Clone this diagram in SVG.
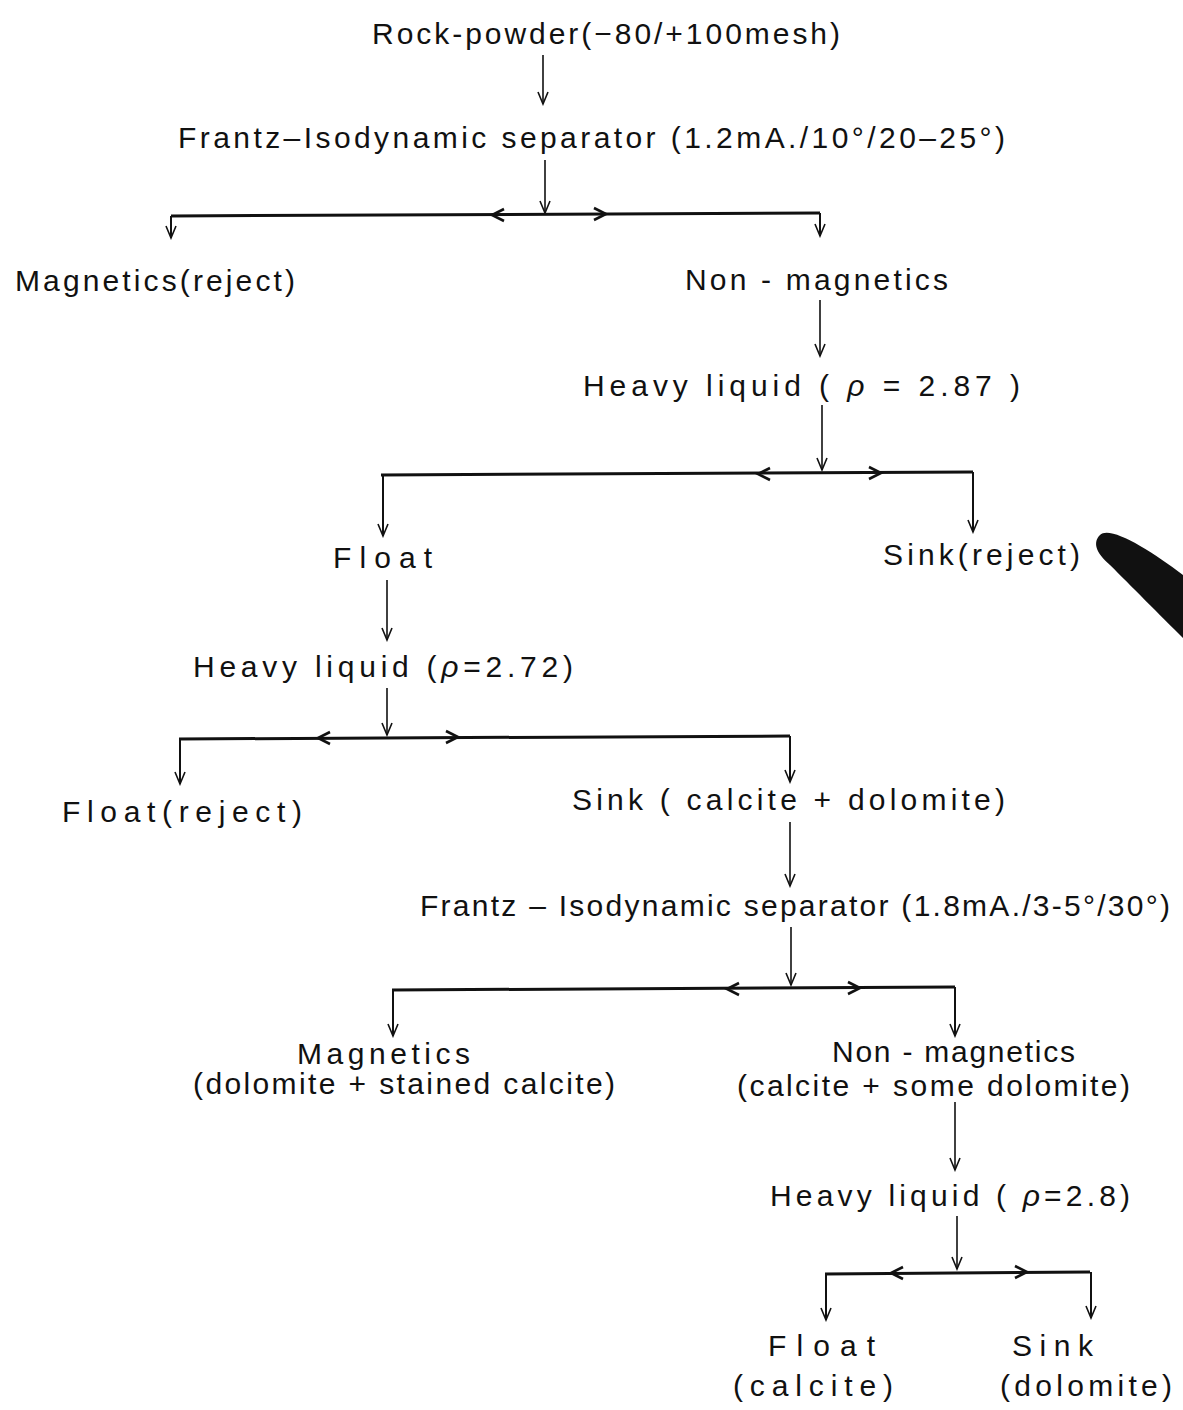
<svg xmlns="http://www.w3.org/2000/svg" width="1183" height="1410" viewBox="0 0 1183 1410">
<defs>
<style>
text{font-family:"Liberation Sans","DejaVu Sans",sans-serif;font-size:30px;fill:#111;}
.v{stroke:#111;stroke-width:1.6;fill:none;}
.h{stroke:#111;stroke-width:3;fill:none;}
.d{stroke:#111;stroke-width:2;fill:none;}
.ch{stroke:#111;stroke-width:2.6;fill:none;stroke-linejoin:miter;}
</style>
<marker id="ah" markerUnits="userSpaceOnUse" markerWidth="16" markerHeight="14" viewBox="-14 -7 16 14" refX="0" refY="0" orient="auto">
<path d="M-12,-5 L0,0 L-12,5" fill="none" stroke="#111" stroke-width="1.6"/>
</marker>
<path id="cr" d="M-12,-6 L0,0 L-12,6"/>
<path id="cl" d="M12,-6 L0,0 L12,6"/>
</defs>

<g id="connectors">
<line class="v" x1="543" y1="55" x2="543" y2="104" marker-end="url(#ah)"/>
<line class="v" x1="545" y1="160" x2="545" y2="213" marker-end="url(#ah)"/>
<path class="h" d="M171,216 L820,213"/>
<line class="d" x1="171" y1="216" x2="171" y2="238" marker-end="url(#ah)"/>
<line class="d" x1="820" y1="213" x2="820" y2="236" marker-end="url(#ah)"/>
<use href="#cl" class="ch" x="492" y="215"/>
<use href="#cr" class="ch" x="606" y="214"/>

<line class="v" x1="820" y1="300" x2="820" y2="356" marker-end="url(#ah)"/>
<line class="v" x1="822" y1="405" x2="822" y2="470" marker-end="url(#ah)"/>
<path class="h" d="M381,475 L973,472"/>
<line class="d" x1="383" y1="475" x2="383" y2="536" marker-end="url(#ah)"/>
<line class="d" x1="973" y1="472" x2="973" y2="532" marker-end="url(#ah)"/>
<use href="#cl" class="ch" x="758" y="474"/>
<use href="#cr" class="ch" x="881" y="473"/>

<line class="v" x1="387" y1="580" x2="387" y2="640" marker-end="url(#ah)"/>
<line class="v" x1="387" y1="688" x2="387" y2="735" marker-end="url(#ah)"/>
<path class="h" d="M179,739 L790,736"/>
<line class="d" x1="180" y1="739" x2="180" y2="784" marker-end="url(#ah)"/>
<line class="d" x1="790" y1="736" x2="790" y2="782" marker-end="url(#ah)"/>
<use href="#cl" class="ch" x="318" y="738"/>
<use href="#cr" class="ch" x="458" y="737"/>

<line class="v" x1="790" y1="822" x2="790" y2="886" marker-end="url(#ah)"/>
<line class="v" x1="791" y1="927" x2="791" y2="985" marker-end="url(#ah)"/>
<path class="h" d="M392,990 L955,987"/>
<line class="d" x1="393" y1="990" x2="393" y2="1036" marker-end="url(#ah)"/>
<line class="d" x1="955" y1="987" x2="955" y2="1036" marker-end="url(#ah)"/>
<use href="#cl" class="ch" x="727" y="989"/>
<use href="#cr" class="ch" x="860" y="988"/>

<line class="v" x1="955" y1="1102" x2="955" y2="1170" marker-end="url(#ah)"/>
<line class="v" x1="957" y1="1216" x2="957" y2="1269" marker-end="url(#ah)"/>
<path class="h" d="M825,1274 L1090,1272"/>
<line class="d" x1="826" y1="1274" x2="826" y2="1320" marker-end="url(#ah)"/>
<line class="d" x1="1091" y1="1272" x2="1091" y2="1318" marker-end="url(#ah)"/>
<use href="#cl" class="ch" x="891" y="1273"/>
<use href="#cr" class="ch" x="1027" y="1272"/>
</g>

<g id="n-rock"><text x="372" y="44" textLength="468" lengthAdjust="spacing">Rock-powder(−80/+100mesh)</text></g>
<g id="n-frantz1"><text x="178" y="148" textLength="827" lengthAdjust="spacing">Frantz–Isodynamic  separator  (1.2mA./10°/20–25°)</text></g>
<g id="n-mag1"><text x="15" y="291" textLength="280" lengthAdjust="spacing">Magnetics(reject)</text></g>
<g id="n-nonmag1"><text x="685" y="290" textLength="263" lengthAdjust="spacing">Non - magnetics</text></g>
<g id="n-heavy1"><text x="583" y="396" textLength="437" lengthAdjust="spacing">Heavy liquid ( <tspan font-style="italic">ρ</tspan> = 2.87 )</text></g>
<g id="n-float1"><text x="333" y="568" textLength="99" lengthAdjust="spacing">Float</text></g>
<g id="n-sink1"><text x="883" y="565" textLength="197" lengthAdjust="spacing">Sink(reject)</text></g>
<g id="n-heavy2"><text x="193" y="677" textLength="380" lengthAdjust="spacing">Heavy liquid (<tspan font-style="italic">ρ</tspan>=2.72)</text></g>
<g id="n-float2"><text x="62" y="822" textLength="240" lengthAdjust="spacing">Float(reject)</text></g>
<g id="n-sink2"><text x="572" y="810" textLength="433" lengthAdjust="spacing">Sink ( calcite + dolomite)</text></g>
<g id="n-frantz2"><text x="420" y="916" textLength="750" lengthAdjust="spacing">Frantz – Isodynamic  separator (1.8mA./3-5°/30°)</text></g>
<g id="n-mag2"><text x="297" y="1064" textLength="173" lengthAdjust="spacing">Magnetics</text><text x="193" y="1094" textLength="422" lengthAdjust="spacing">(dolomite + stained calcite)</text></g>
<g id="n-nonmag2"><text x="832" y="1062" textLength="243" lengthAdjust="spacing">Non - magnetics</text><text x="737" y="1096" textLength="393" lengthAdjust="spacing">(calcite + some dolomite)</text></g>
<g id="n-heavy3"><text x="770" y="1206" textLength="360" lengthAdjust="spacing">Heavy liquid ( <tspan font-style="italic">ρ</tspan>=2.8)</text></g>
<g id="n-float3"><text x="768" y="1356" textLength="107" lengthAdjust="spacing">Float</text><text x="733" y="1396" textLength="160" lengthAdjust="spacing">(calcite)</text></g>
<g id="n-sink3"><text x="1012" y="1356" textLength="81" lengthAdjust="spacing">Sink</text><text x="1000" y="1396" textLength="172" lengthAdjust="spacing">(dolomite)</text></g>

<path d="M1100,535 C1110,525 1150,550 1183,575 L1183,638 C1160,615 1130,585 1110,565 C1095,552 1093,542 1100,535 Z" fill="#111"/>
</svg>
